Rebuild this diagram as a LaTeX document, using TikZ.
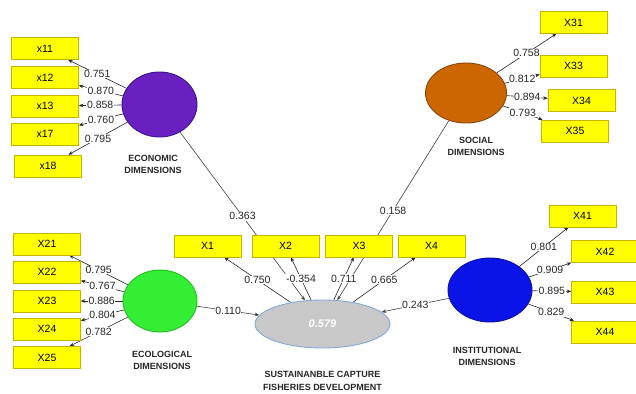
\documentclass[tikz,border=0pt]{standalone}
\usepackage{fontspec}
\setmainfont{Liberation Sans}
\usetikzlibrary{arrows.meta,shapes.geometric,backgrounds}
\definecolor{boxyellow}{HTML}{FFFF00}
\definecolor{boxborder}{HTML}{C8B400}
\definecolor{ecocol}{HTML}{6A1FC0}
\definecolor{ecoborder}{HTML}{3A1590}
\definecolor{soccol}{HTML}{CC6600}
\definecolor{socborder}{HTML}{8A4510}
\definecolor{ecolcol}{HTML}{33EE33}
\definecolor{ecolborder}{HTML}{22BB22}
\definecolor{instcol}{HTML}{0A14E6}
\definecolor{instborder}{HTML}{0A10A0}
\definecolor{suscol}{HTML}{C8C8C8}
\definecolor{susborder}{HTML}{7FAAD8}
\definecolor{pathgray}{HTML}{404040}
\begin{document}
\begin{tikzpicture}[x=1pt,y=-1pt,
  ind/.style={draw=boxborder, fill=boxyellow, line width=0.6pt, minimum width=67pt, minimum height=22pt, inner sep=0pt, font=\fontsize{10.5}{12}\selectfont},
  lv/.style={ellipse, inner sep=0pt, line width=0.9pt},
  lab/.style={fill=white, inner sep=0.6pt, font=\fontsize{10.5}{12}\selectfont, text=black!85},
  lvcaption/.style={align=center, font=\fontsize{9}{12.5}\selectfont\bfseries, text=black!85},
  arr/.style={-{Stealth[length=4.5pt,width=3.6pt]}, line width=0.6pt, draw=black!85},
  spath/.style={-{Stealth[length=4.5pt,width=3.6pt]}, line width=0.6pt, draw=pathgray}]
\useasboundingbox (0,0) rectangle (636,393);
% latent variables
\node[lv, fill=ecocol, draw=ecoborder, minimum width=75pt, minimum height=65pt] (eco) at (159.5,104.5) {};
\node[lv, fill=soccol, draw=socborder, minimum width=81pt, minimum height=60pt] (soc) at (466,93) {};
\node[lv, fill=ecolcol, draw=ecolborder, minimum width=74pt, minimum height=62pt] (ecol) at (160,301) {};
\node[lv, fill=instcol, draw=instborder, minimum width=84pt, minimum height=64pt] (inst) at (490,290) {};
\node[lv, fill=suscol, draw=susborder, minimum width=135pt, minimum height=48pt, text=white, font=\fontsize{11}{12}\selectfont\bfseries\itshape] (sus) at (322.5,324) {0.579};
% captions
\node[lvcaption] (ecocap) at (153,164.5) {ECONOMIC\\DIMENSIONS};
\node[lvcaption] (soccap) at (476,146.5) {SOCIAL\\DIMENSIONS};
\node[lvcaption] (ecolcap) at (162,360.5) {ECOLOGICAL\\DIMENSIONS};
\node[lvcaption] (suscap) at (322.5,381) {SUSTAINANBLE CAPTURE\\FISHERIES DEVELOPMENT};
\node[lvcaption] (instcap) at (487,356.5) {INSTITUTIONAL\\DIMENSIONS};
% indicators
\node[ind] (x11) at (45,48.5) {x11};
\node[ind] (x12) at (45,77.5) {x12};
\node[ind] (x13) at (45,106) {x13};
\node[ind] (x17) at (45,134) {x17};
\node[ind] (x18) at (48,166) {x18};
\node[ind] (X31) at (573.5,22.5) {X31};
\node[ind] (X33) at (573.5,66) {X33};
\node[ind] (X34) at (581.5,100.5) {X34};
\node[ind] (X35) at (575,131) {X35};
\node[ind] (X21) at (47,244) {X21};
\node[ind] (X22) at (47,272) {X22};
\node[ind] (X23) at (47,301) {X23};
\node[ind] (X24) at (47,329) {X24};
\node[ind] (X25) at (47,357.5) {X25};
\node[ind] (X1) at (207.5,246) {X1};
\node[ind] (X2) at (285.5,246) {X2};
\node[ind] (X3) at (359,246) {X3};
\node[ind] (X4) at (431.5,246) {X4};
\node[ind] (X41) at (582.5,216) {X41};
\node[ind] (X42) at (605,251.5) {X42};
\node[ind] (X43) at (605,292) {X43};
\node[ind] (X44) at (605,332) {X44};
\begin{pgfonlayer}{background}
\fill[white] (0,0) rectangle (636,393);
% structural paths
\draw[spath] (eco) -- node[lab] {0.363} (sus);
\draw[spath] (soc) -- node[lab] {0.158} (sus);
\draw[spath] (ecol) -- node[lab] {0.110} (sus);
\draw[spath] (inst) -- node[lab] {0.243} (sus);
% loadings
\draw[arr] (eco) -- node[lab] {0.751} (x11);
\draw[arr] (eco) -- node[lab] {0.870} (x12);
\draw[arr] (eco) -- node[lab] {0.858} (x13);
\draw[arr] (eco) -- node[lab] {0.760} (x17);
\draw[arr] (eco) -- node[lab] {0.795} (x18);
\draw[arr] (soc) -- node[lab] {0.758} (X31);
\draw[arr] (soc) -- node[lab] {0.812} (X33);
\draw[arr] (soc) -- node[lab] {0.894} (X34);
\draw[arr] (soc) -- node[lab] {0.793} (X35);
\draw[arr] (ecol) -- node[lab] {0.795} (X21);
\draw[arr] (ecol) -- node[lab] {0.767} (X22);
\draw[arr] (ecol) -- node[lab] {0.886} (X23);
\draw[arr] (ecol) -- node[lab] {0.804} (X24);
\draw[arr] (ecol) -- node[lab] {0.782} (X25);
\draw[arr] (inst) -- node[lab] {0.801} (X41);
\draw[arr] (inst) -- node[lab] {0.909} (X42);
\draw[arr] (inst) -- node[lab] {0.895} (X43);
\draw[arr] (inst) -- node[lab] {0.829} (X44);
\draw[arr] (sus) -- node[lab] {0.750} (X1);
\draw[arr] (sus) -- node[lab] {-0.354} (X2);
\draw[arr] (sus) -- node[lab] {0.711} (X3);
\draw[arr] (sus) -- node[lab] {0.665} (X4);
\end{pgfonlayer}
\end{tikzpicture}
\end{document}
